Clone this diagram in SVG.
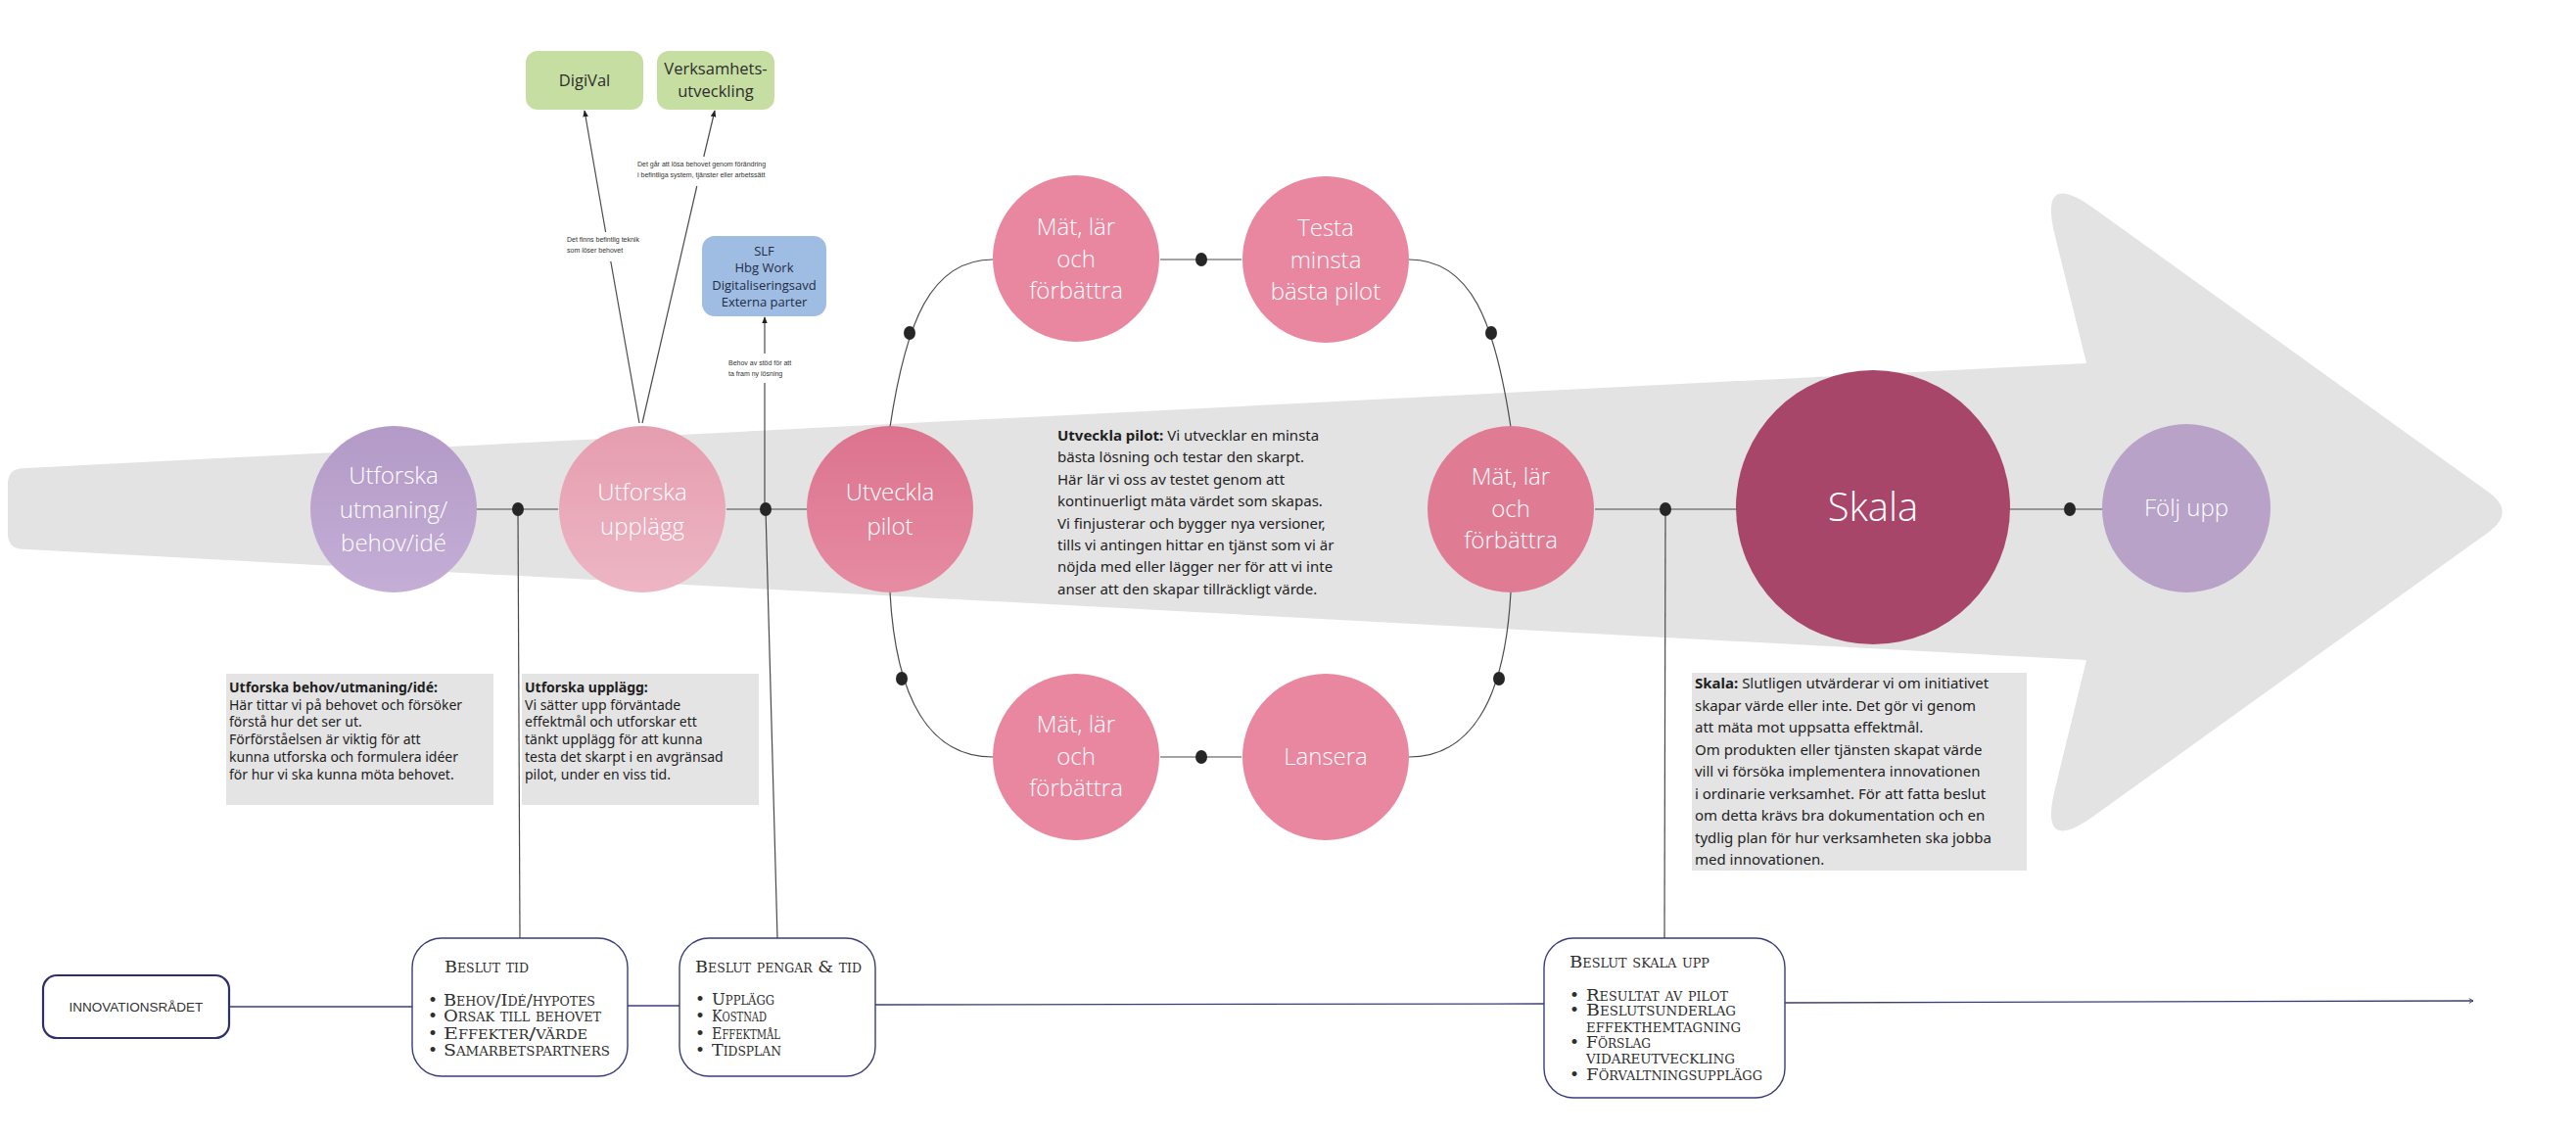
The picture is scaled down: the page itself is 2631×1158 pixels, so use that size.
<svg xmlns="http://www.w3.org/2000/svg" width="2631" height="1158" viewBox="0 0 2631 1158">
<style>
.ct{font-family:"Open Sans","Noto Sans",sans-serif;font-size:24px;fill:#fff;text-anchor:middle;font-weight:300}
.desc{font-family:"Noto Sans","Open Sans",sans-serif;fill:#1e1e1e}
.b{font-weight:bold}
.conn{stroke:#4a4a4a;stroke-width:1.2;fill:none}
.dot{fill:#262626}
.lbl{font-family:"Liberation Sans","Noto Sans",sans-serif;font-size:7px;fill:#333}
.sc{font-family:"DejaVu Serif","Liberation Serif",serif;font-variant:small-caps;font-size:17px;fill:#2e2e2e}
.dbox{fill:#fff;stroke:#3a3d78;stroke-width:1.4}
.tbox{fill:#e4e4e4}
.grn{fill:#c6dea2}
.gt{font-family:"Open Sans","Noto Sans",sans-serif;font-size:16.5px;fill:#2d2d2d;text-anchor:middle}
</style>
<defs>
<linearGradient id="g1" x1="0" y1="0" x2="0" y2="1"><stop offset="0" stop-color="#b39ac7"/><stop offset="1" stop-color="#c4aed6"/></linearGradient>
<linearGradient id="g2" x1="0" y1="0" x2="0" y2="1"><stop offset="0" stop-color="#e59daf"/><stop offset="1" stop-color="#edb6c4"/></linearGradient>
<linearGradient id="g3" x1="0" y1="0" x2="0" y2="1"><stop offset="0" stop-color="#dc738e"/><stop offset="1" stop-color="#e68ca2"/></linearGradient>
<marker id="ah" viewBox="0 0 10 10" refX="9" refY="5" markerWidth="7" markerHeight="7" orient="auto-start-reverse" markerUnits="userSpaceOnUse"><path d="M0,1 L10,5 L0,9 z" fill="#222"/></marker>
<marker id="ao" viewBox="0 0 10 10" refX="9" refY="5" markerWidth="6" markerHeight="6" orient="auto" markerUnits="userSpaceOnUse"><path d="M2,1 L9,5 L2,9" fill="none" stroke="#3a3d78" stroke-width="1.5"/></marker>
</defs>
<rect width="2631" height="1158" fill="#fff"/>

<!-- big background arrow -->
<path id="bigArrow" fill="#e3e3e3" d="M 23 478.2 L 2131 371 L 2098.7 240 Q 2082 172 2138.8 212.9 L 2541.6 502.6 Q 2570 523 2541.6 543.4 L 2138.8 833.1 Q 2082 874 2098.8 806 L 2131 674 L 23 560.8 Q 8 560 8 545 L 8 494 Q 8 479 23 478.2 Z"/>

<!-- text boxes -->
<g id="txt-utforska-behov">
<rect class="tbox" x="231" y="688" width="273" height="134"/>
<text class="desc" font-size="14" x="234" y="707"><tspan class="b">Utforska behov/utmaning/idé:</tspan><tspan x="234" dy="17.7">Här tittar vi på behovet och försöker</tspan><tspan x="234" dy="17.7">förstå hur det ser ut.</tspan><tspan x="234" dy="17.7">Förförståelsen är viktig för att</tspan><tspan x="234" dy="17.7">kunna utforska och formulera idéer</tspan><tspan x="234" dy="17.7">för hur vi ska kunna möta behovet.</tspan></text>
</g>
<g id="txt-utforska-upplagg">
<rect class="tbox" x="533" y="688" width="242" height="134"/>
<text class="desc" font-size="14" x="536" y="707"><tspan class="b">Utforska upplägg:</tspan><tspan x="536" dy="17.7">Vi sätter upp förväntade</tspan><tspan x="536" dy="17.7">effektmål och utforskar ett</tspan><tspan x="536" dy="17.7">tänkt upplägg för att kunna</tspan><tspan x="536" dy="17.7">testa det skarpt i en avgränsad</tspan><tspan x="536" dy="17.7">pilot, under en viss tid.</tspan></text>
</g>
<g id="txt-utveckla-pilot">
<text class="desc" font-size="15" x="1080" y="450"><tspan class="b">Utveckla pilot:</tspan> Vi utvecklar en minsta<tspan x="1080" dy="22.4">bästa lösning och testar den skarpt.</tspan><tspan x="1080" dy="22.4">Här lär vi oss av testet genom att</tspan><tspan x="1080" dy="22.4">kontinuerligt mäta värdet som skapas.</tspan><tspan x="1080" dy="22.4">Vi finjusterar och bygger nya versioner,</tspan><tspan x="1080" dy="22.4">tills vi antingen hittar en tjänst som vi är</tspan><tspan x="1080" dy="22.4">nöjda med eller lägger ner för att vi inte</tspan><tspan x="1080" dy="22.4">anser att den skapar tillräckligt värde.</tspan></text>
</g>
<g id="txt-skala">
<rect class="tbox" x="1728" y="687" width="342" height="202"/>
<text class="desc" font-size="15" x="1731" y="703"><tspan class="b">Skala:</tspan> Slutligen utvärderar vi om initiativet<tspan x="1731" dy="22.5">skapar värde eller inte. Det gör vi genom</tspan><tspan x="1731" dy="22.5">att mäta mot uppsatta effektmål.</tspan><tspan x="1731" dy="22.5">Om produkten eller tjänsten skapat värde</tspan><tspan x="1731" dy="22.5">vill vi försöka implementera innovationen</tspan><tspan x="1731" dy="22.5">i ordinarie verksamhet. För att fatta beslut</tspan><tspan x="1731" dy="22.5">om detta krävs bra dokumentation och en</tspan><tspan x="1731" dy="22.5">tydlig plan för hur verksamheten ska jobba</tspan><tspan x="1731" dy="22.5">med innovationen.</tspan></text>
</g>

<!-- connectors -->
<g id="connectors">
<line class="conn" x1="487" y1="520" x2="570" y2="520"/>
<line class="conn" x1="742" y1="520" x2="825" y2="520"/>
<line class="conn" x1="1629" y1="520" x2="1774" y2="520"/>
<line class="conn" x1="2052" y1="520" x2="2147" y2="520"/>
<line class="conn" x1="1185" y1="265" x2="1268" y2="265"/>
<line class="conn" x1="1185" y1="773" x2="1268" y2="773"/>
<path class="conn" d="M 909 436 C 925 330, 950 265, 1014 265"/>
<path class="conn" d="M 1439 265 C 1503 265, 1527 330, 1543 436"/>
<path class="conn" d="M 909 605 C 915 715, 950 773, 1014 773"/>
<path class="conn" d="M 1543 605 C 1537 715, 1502 773, 1439 773"/>
<line class="conn" x1="529" y1="520" x2="531" y2="958"/>
<line class="conn" x1="782" y1="520" x2="794" y2="958"/>
<line class="conn" x1="1701" y1="520" x2="1700" y2="958"/>
<line class="conn" x1="781" y1="520" x2="781" y2="391"/>
<line class="conn" x1="781" y1="361" x2="781" y2="324" marker-end="url(#ah)"/>
<line class="conn" x1="653" y1="432" x2="623.8" y2="267"/>
<line class="conn" x1="618.6" y1="237" x2="597" y2="113" marker-end="url(#ah)"/>
<line class="conn" x1="656" y1="432" x2="711.8" y2="190"/>
<line class="conn" x1="718.8" y1="160" x2="730" y2="113" marker-end="url(#ah)"/>
<line x1="234" y1="1028" x2="421" y2="1028" stroke="#3a3d78" stroke-width="1.3"/>
<line x1="641" y1="1027" x2="694" y2="1027" stroke="#3a3d78" stroke-width="1.3"/>
<line x1="894" y1="1026" x2="1577" y2="1025" stroke="#3a3d78" stroke-width="1.3"/>
<line x1="1823" y1="1024" x2="2526" y2="1022" stroke="#3a3d78" stroke-width="1.3" marker-end="url(#ao)"/>
<ellipse class="dot" cx="529" cy="520" rx="6" ry="7"/>
<ellipse class="dot" cx="782" cy="520" rx="6" ry="7"/>
<ellipse class="dot" cx="1701" cy="520" rx="6" ry="7"/>
<ellipse class="dot" cx="2114" cy="520" rx="6" ry="7"/>
<ellipse class="dot" cx="1227" cy="265" rx="6" ry="7"/>
<ellipse class="dot" cx="1227" cy="773" rx="6" ry="7"/>
<ellipse class="dot" cx="929" cy="340" rx="6" ry="7"/>
<ellipse class="dot" cx="1523" cy="340" rx="6" ry="7"/>
<ellipse class="dot" cx="921" cy="693" rx="6" ry="7"/>
<ellipse class="dot" cx="1531" cy="693" rx="6" ry="7"/>
<text class="lbl" x="579" y="247">Det finns befintlig teknik</text>
<text class="lbl" x="579" y="258">som löser behovet</text>
<text class="lbl" x="651" y="170">Det går att lösa behovet genom förändring</text>
<text class="lbl" x="651" y="181">i befintliga system, tjänster eller arbetssätt</text>
<text class="lbl" x="744" y="373">Behov av stöd för att</text>
<text class="lbl" x="744" y="384">ta fram ny lösning</text>
</g>

<!-- nodes -->
<g id="n-utforska-behov"><circle cx="402" cy="520" r="85" fill="url(#g1)"/><text class="ct" x="402" y="494">Utforska<tspan x="402" dy="34.5">utmaning/</tspan><tspan x="402" dy="34.5">behov/idé</tspan></text></g>
<g id="n-utforska-upplagg"><circle cx="656" cy="520" r="85" fill="url(#g2)"/><text class="ct" x="656" y="511">Utforska<tspan x="656" dy="35">upplägg</tspan></text></g>
<g id="n-utveckla-pilot"><circle cx="909" cy="520" r="85" fill="url(#g3)"/><text class="ct" x="909" y="511">Utveckla<tspan x="909" dy="35">pilot</tspan></text></g>
<g id="n-mat1"><circle cx="1099" cy="264" r="85" fill="#e8879f"/><text class="ct" x="1099" y="240">Mät, lär<tspan x="1099" dy="32.5">och</tspan><tspan x="1099" dy="32.5">förbättra</tspan></text></g>
<g id="n-testa"><circle cx="1354" cy="265" r="85" fill="#e8879f"/><text class="ct" x="1354" y="241">Testa<tspan x="1354" dy="32.5">minsta</tspan><tspan x="1354" dy="32.5">bästa pilot</tspan></text></g>
<g id="n-mat2"><circle cx="1543" cy="520" r="85" fill="#e07b94"/><text class="ct" x="1543" y="495">Mät, lär<tspan x="1543" dy="32.5">och</tspan><tspan x="1543" dy="32.5">förbättra</tspan></text></g>
<g id="n-mat3"><circle cx="1099" cy="773" r="85" fill="#e8879f"/><text class="ct" x="1099" y="748">Mät, lär<tspan x="1099" dy="32.5">och</tspan><tspan x="1099" dy="32.5">förbättra</tspan></text></g>
<g id="n-lansera"><circle cx="1354" cy="773" r="85" fill="#e8879f"/><text class="ct" x="1354" y="781">Lansera</text></g>
<g id="n-skala"><circle cx="1913" cy="518" r="140" fill="#a8466a"/><text class="ct" x="1913" y="532" style="font-size:40px">Skala</text></g>
<g id="n-folj-upp"><circle cx="2233" cy="519" r="86" fill="#b8a2c8"/><text class="ct" x="2233" y="527">Följ upp</text></g>

<g id="n-digival"><rect class="grn" x="537" y="52" width="120" height="60" rx="12"/><text class="gt" x="597" y="88">DigiVal</text></g>
<g id="n-verksamhet"><rect class="grn" x="671" y="52" width="120" height="60" rx="12"/><text class="gt" x="731" y="76">Verksamhets-<tspan x="731" dy="23">utveckling</tspan></text></g>
<g id="n-slf"><rect x="717" y="241" width="127" height="82" rx="13" fill="#9fbde3"/><text x="780.5" y="261" font-family="Open Sans,Noto Sans,sans-serif" font-size="13" fill="#1f2b45" text-anchor="middle">SLF<tspan x="780.5" dy="17.4">Hbg Work</tspan><tspan x="780.5" dy="17.4">Digitaliseringsavd</tspan><tspan x="780.5" dy="17.4">Externa parter</tspan></text></g>

<g id="n-innovationsradet"><rect x="44" y="996" width="190" height="64" rx="14" fill="#fff" stroke="#2c2f6b" stroke-width="2.2"/><text x="139" y="1033" font-family="Liberation Sans,sans-serif" font-size="13.5" fill="#333" text-anchor="middle">INNOVATIONSRÅDET</text></g>
<g id="n-beslut-tid"><rect class="dbox" x="421" y="958" width="220" height="141" rx="30"/>
<text class="sc" x="454" y="993" textLength="86" lengthAdjust="spacingAndGlyphs">Beslut tid</text>
<text class="sc" x="437" y="1027">•</text><text class="sc" x="453" y="1027" textLength="155" lengthAdjust="spacingAndGlyphs">Behov/Idé/hypotes</text>
<text class="sc" x="437" y="1043">•</text><text class="sc" x="453" y="1043" textLength="161" lengthAdjust="spacingAndGlyphs">Orsak till behovet</text>
<text class="sc" x="437" y="1061">•</text><text class="sc" x="453" y="1061" textLength="147" lengthAdjust="spacingAndGlyphs">Effekter/värde</text>
<text class="sc" x="437" y="1078">•</text><text class="sc" x="453" y="1078" textLength="170" lengthAdjust="spacingAndGlyphs">Samarbetspartners</text>
</g>
<g id="n-beslut-pengar"><rect class="dbox" x="694" y="958" width="200" height="141" rx="30"/>
<text class="sc" x="710" y="993" textLength="170" lengthAdjust="spacingAndGlyphs">Beslut pengar &amp; tid</text>
<text class="sc" x="710" y="1026">•</text><text class="sc" x="727" y="1026" textLength="64" lengthAdjust="spacingAndGlyphs">Upplägg</text>
<text class="sc" x="710" y="1043">•</text><text class="sc" x="727" y="1043" textLength="56" lengthAdjust="spacingAndGlyphs">Kostnad</text>
<text class="sc" x="710" y="1061">•</text><text class="sc" x="727" y="1061" textLength="70" lengthAdjust="spacingAndGlyphs">Effektmål</text>
<text class="sc" x="710" y="1078">•</text><text class="sc" x="727" y="1078" textLength="71" lengthAdjust="spacingAndGlyphs">Tidsplan</text>
</g>
<g id="n-beslut-skala"><rect class="dbox" x="1577" y="958" width="246" height="163" rx="30"/>
<text class="sc" x="1603" y="988" textLength="143" lengthAdjust="spacingAndGlyphs">Beslut skala upp</text>
<text class="sc" x="1603" y="1022">•</text><text class="sc" x="1620" y="1022" textLength="145" lengthAdjust="spacingAndGlyphs">Resultat av pilot</text>
<text class="sc" x="1603" y="1037">•</text><text class="sc" x="1620" y="1037" textLength="153" lengthAdjust="spacingAndGlyphs">Beslutsunderlag</text>
<text class="sc" x="1620" y="1054" textLength="158" lengthAdjust="spacingAndGlyphs">effekthemtagning</text>
<text class="sc" x="1603" y="1070">•</text><text class="sc" x="1620" y="1070" textLength="66" lengthAdjust="spacingAndGlyphs">Förslag</text>
<text class="sc" x="1620" y="1086" textLength="152" lengthAdjust="spacingAndGlyphs">vidareutveckling</text>
<text class="sc" x="1603" y="1103">•</text><text class="sc" x="1620" y="1103" textLength="180" lengthAdjust="spacingAndGlyphs">Förvaltningsupplägg</text>
</g>
</svg>
